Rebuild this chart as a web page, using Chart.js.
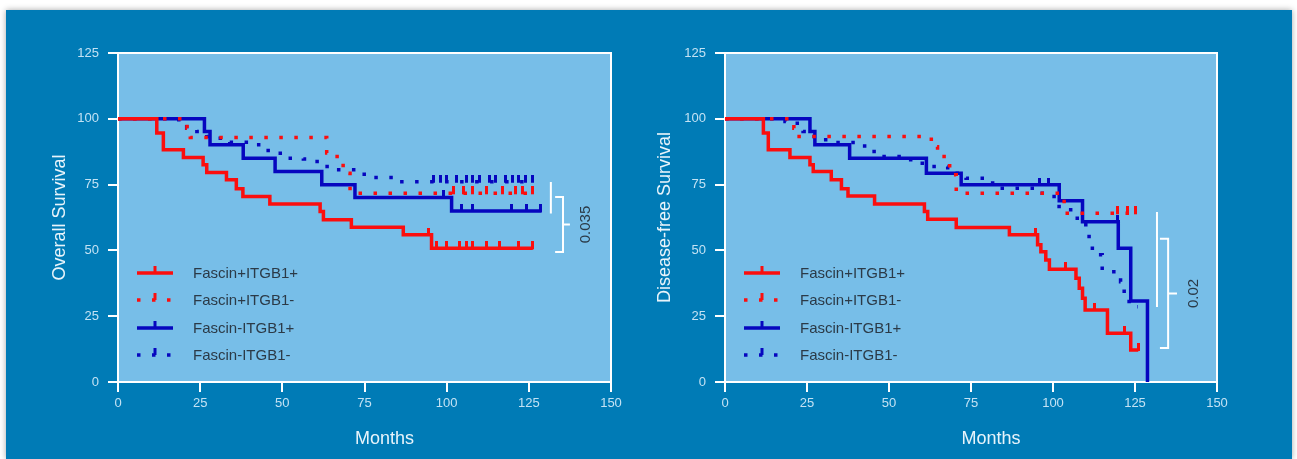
<!DOCTYPE html>
<html>
<head>
<meta charset="utf-8">
<script src="https://cdn.jsdelivr.net/npm/chart.js@4.4.0/dist/chart.umd.min.js"></script>
<style>
  body { margin: 0; background: #fff; width: 1297px; height: 459px; overflow: hidden; position: relative; }
  #panel { position: absolute; left: 6px; top: 10px; width: 1286px; height: 449px; background: #007bb6; box-shadow: 0 0 6px rgba(0,0,0,0.35); }
  #os { position: absolute; left: 0; top: 0; }
  #dfs { position: absolute; left: 640px; top: 0; }
</style>
</head>
<body>
<div id="panel">
  <canvas id="os" width="640" height="449"></canvas>
  <canvas id="dfs" width="646" height="449"></canvas>
</div>
<script>
// legend labels
var groupLabels = ["Fascin+ITGB1+", "Fascin+ITGB1-", "Fascin-ITGB1+", "Fascin-ITGB1-"];
var xTicks = [0, 25, 50, 75, 100, 125, 150];
var yTicks = [0, 25, 50, 75, 100, 125];

// ---- overall survival (months / % surviving after each step) ----
var osPosPosT = [0, 11.8, 13.8, 19.9, 25.9, 27, 33, 36, 38, 46.2, 61.5, 62.5, 71, 86.8, 95.4, 126.2];
var osPosPosS = [100, 94.6, 88.2, 85.3, 82.5, 79.6, 76.8, 73.4, 70.5, 67.6, 64.8, 61.6, 58.8, 55.9, 50.8, 50.8];
var osPosPosC = [94.6, 97, 100, 104, 106, 108, 112, 116, 122, 126];

var osPosNegT = [0, 21, 22, 63.5, 65.4, 67.5, 68.5, 70.6, 126.2];
var osPosNegS = [100, 96.4, 92.9, 87, 85.7, 83, 79.3, 71.7, 71.7];
var osPosNegC = [102, 105, 108, 112, 117, 121, 123, 126];

var osNegPosT = [0, 26.3, 28, 38.1, 47.8, 62, 72.1, 101.5, 128.9];
var osNegPosS = [100, 95.2, 90.1, 85, 80, 74.9, 70.1, 65, 65];
var osNegPosC = [99, 104.6, 108, 119.8, 124.3, 128.4];

var osNegNegT = [0, 18.5, 20.9, 24, 27, 30, 34, 41.7, 44.7, 46.8, 51.8, 56.4, 59.4, 63, 66, 73, 77.2, 83.8, 126.2];
var osNegNegS = [100, 98.8, 96.4, 95.2, 93.3, 92.6, 91.1, 90.1, 88, 86.9, 85, 84.7, 83.8, 81.9, 80.6, 78.9, 77.7, 76.1, 76.1];
var osNegNegC = [96, 98, 100, 103, 106, 108, 110, 113, 115, 118, 120, 122, 124, 126];

// ---- disease-free survival ----
var dfsPosPosT = [0, 11.7, 13.2, 19.8, 25.9, 26.9, 32.4, 35.5, 37.5, 45.6, 60.8, 61.8, 70.5, 86.7, 95.3, 96.3, 97.8, 98.9, 107, 108, 109, 109.8, 116.6, 123.7, 126];
var dfsPosPosS = [100, 94.6, 88.2, 85.3, 82.5, 80, 76.8, 73.4, 70.7, 67.6, 64.8, 61.8, 58.7, 55.9, 52.1, 49.5, 46.4, 42.8, 39.4, 35.6, 31.8, 27.4, 18.5, 12.2, 12.2];
var dfsPosPosC = [94.8, 103.7, 112.8, 121.7, 126];

var dfsPosNegT = [0, 21, 22, 62.9, 64.8, 67.4, 68.5, 70.5, 103.4, 126];
var dfsPosNegS = [100, 96.4, 93.3, 89.4, 85.7, 83.1, 78.7, 71.7, 64.1, 64.1];
var dfsPosNegC = [119.6, 122.6, 125.3];

var dfsNegPosT = [0, 25.9, 27.4, 38, 61.4, 72, 101.9, 109, 119.9, 123.7, 128.8];
var dfsNegPosS = [100, 95.2, 90.1, 85, 79.3, 74.9, 68.9, 60.9, 50.8, 30.8, 0];
var dfsNegPosC = [95.8, 98.6, 119.6];

var dfsNegNegT = [0, 18.3, 19.8, 23.8, 26.4, 29.9, 33.5, 41.6, 43.6, 47.7, 54.8, 57.8, 61.8, 67.9, 73.5, 81.6, 95.8, 98.9, 100.9, 103.4, 106, 110, 111, 112, 115, 120.6, 121.7, 123.2, 125.8];
var dfsNegNegS = [100, 99, 98.3, 95.2, 93.3, 92, 91, 89.7, 87.6, 85.7, 84.4, 83.1, 81.9, 79.3, 77.4, 73.6, 71.7, 70.5, 66.7, 65.4, 62.2, 58.4, 54, 48.3, 41.9, 38.1, 33.7, 28.6, 28.6];
var dfsNegNegC = [];

// p values
var osPValue = "0.035";
var dfsPValue = "0.02";

var RED = "#fb0e0e";
var BLUE = "#0606bf";
var DASH = [3.5, 11.5];
var FONT = "'Liberation Sans', Arial, Helvetica, sans-serif";

//small upward tick used as the censor marker
var tickImage = function(color) {
  var c = document.createElement("canvas");
  c.width = 3; c.height = 14;
  var g = c.getContext("2d");
  g.fillStyle = color;
  g.fillRect(0, 0, 3, 8);
  return c;
};
var redTick = tickImage(RED), blueTick = tickImage(BLUE);

var levelAt = function(ts, ss, m) {
  var v = ss[0];
  for (var i = 0; i < ts.length; i++) { if (ts[i] <= m) v = ss[i]; }
  return v;
};

var curve = function(label, ts, ss, color, dotted) {
  return {
    label: label,
    data: ts.map(function(t, i) { return { x: t, y: ss[i] }; }),
    borderColor: color,
    backgroundColor: color,
    borderWidth: 3.5,
    borderDash: dotted ? DASH : [],
    borderCapStyle: 'butt',
    stepped: 'before',   // horizontal first, then drop
    pointRadius: 0,
    fill: false
  };
};

var censor = function(ts, ss, cs, color) {
  return {
    data: cs.map(function(m) { return { x: m, y: levelAt(ts, ss, m) }; }),
    showLine: false,
    pointStyle: color === RED ? redTick : blueTick,
    pointRadius: 4,
    isCensor: true
  };
};

//plot background and white frame
var plotFrame = {
  id: 'plotFrame',
  beforeDraw: function(chart) {
    var a = chart.chartArea, ctx = chart.ctx;
    ctx.save();
    ctx.fillStyle = "#77bee8";
    ctx.fillRect(a.left, a.top, a.right - a.left, a.bottom - a.top);
    ctx.restore();
  },
  beforeDatasetsDraw: function(chart) {
    var a = chart.chartArea, ctx = chart.ctx;
    ctx.save();
    ctx.strokeStyle = "#fff";
    ctx.lineWidth = 2;
    ctx.strokeRect(a.left, a.top, a.right - a.left, a.bottom - a.top);
    ctx.restore();
  }
};

//legend, x title and p-value bracket
var extras = {
  id: 'extras',
  afterDraw: function(chart, args, opts) {
    var a = chart.chartArea, ctx = chart.ctx;
    var xs = chart.scales.x, ys = chart.scales.y;
    ctx.save();

    // legend
    var rows = [220, 247, 275, 302];
    var curves = chart.data.datasets.filter(function(d) { return !d.isCensor; });
    ctx.font = "15px " + FONT;
    ctx.textBaseline = "middle";
    curves.forEach(function(d, i) {
      var y = a.top + rows[i], x0 = a.left + 19, x1 = a.left + 55;
      ctx.strokeStyle = d.borderColor;
      ctx.lineWidth = 3.5;
      ctx.setLineDash(d.borderDash.length ? d.borderDash : []);
      ctx.beginPath(); ctx.moveTo(x0, y); ctx.lineTo(x1, y); ctx.stroke();
      ctx.setLineDash([]);
      ctx.fillStyle = d.borderColor;
      ctx.fillRect((x0 + x1) / 2 - 1.5, y - 7, 3, 7);
      ctx.fillStyle = "#2b3a47";
      ctx.fillText(d.label, a.left + 75, y + 1);
    });

    // x title
    ctx.fillStyle = "#e8f4fb";
    ctx.font = "18px " + FONT;
    ctx.textAlign = "center";
    ctx.fillText("Months", (a.left + a.right) / 2 + 20, 429);

    // bracket
    var b = opts.bracket;
    ctx.strokeStyle = "#fff";
    ctx.lineWidth = 2;
    ctx.beginPath();
    ctx.moveTo(xs.getPixelForValue(b.line), ys.getPixelForValue(b.lineTop));
    ctx.lineTo(xs.getPixelForValue(b.line), ys.getPixelForValue(b.lineBottom));
    var bx0 = xs.getPixelForValue(b.hookStart), bx1 = xs.getPixelForValue(b.hookEnd);
    var by0 = ys.getPixelForValue(b.top), by1 = ys.getPixelForValue(b.bottom);
    var bm = (by0 + by1) / 2;
    ctx.moveTo(bx0, by0); ctx.lineTo(bx1, by0); ctx.lineTo(bx1, by1); ctx.lineTo(bx0, by1);
    ctx.moveTo(bx1, bm); ctx.lineTo(xs.getPixelForValue(b.tip), bm);
    ctx.stroke();

    ctx.translate(xs.getPixelForValue(b.text), bm);
    ctx.rotate(-Math.PI / 2);
    ctx.fillStyle = "#2b3a47";
    ctx.font = "15px " + FONT;
    ctx.textAlign = "center";
    ctx.fillText(b.label, 0, 0);
    ctx.restore();
  }
};

var makeChart = function(id, yTitle, yWidth, padRight, titlePad, bracket, sets) {
  var ctx = document.getElementById(id).getContext("2d");
  return new Chart(ctx, {
    type: 'line',
    data: { datasets: sets },
    options: {
      responsive: false,
      animation: false,
      layout: { padding: { top: 43, right: padRight, left: 0, bottom: 0 } },
      plugins: { legend: { display: false }, tooltip: { enabled: false }, extras: { bracket: bracket } },
      scales: {
        x: {
          type: 'linear', min: 0, max: 150,
          afterBuildTicks: function(s) { s.ticks = xTicks.map(function(v) { return { value: v }; }); },
          afterFit: function(s) { s.height = 77; },
          grid: { drawOnChartArea: false, drawTicks: true, tickLength: 10, color: "#fff", lineWidth: 2 },
          border: { color: "#fff", width: 2 },
          ticks: { color: "#c3e2f4", font: { size: 13, family: FONT }, padding: 4, maxRotation: 0 }
        },
        y: {
          min: 0, max: 125,
          afterBuildTicks: function(s) { s.ticks = yTicks.map(function(v) { return { value: v }; }); },
          afterFit: function(s) { s.width = yWidth; },
          grid: { drawOnChartArea: false, drawTicks: true, tickLength: 10, color: "#fff", lineWidth: 2 },
          border: { color: "#fff", width: 2 },
          ticks: { color: "#c3e2f4", font: { size: 13, family: FONT }, padding: 9 },
          title: { display: true, text: yTitle, color: "#e8f4fb", font: { size: 18, family: FONT, lineHeight: 1.2 }, padding: { top: titlePad, bottom: 0 } }
        }
      }
    },
    plugins: [plotFrame, extras]
  });
};

makeChart("os", "Overall Survival", 112, 35, 43,
  { line: 131.7, lineTop: 76, lineBottom: 64, hookStart: 133, hookEnd: 135.4, top: 70.3, bottom: 49.4, tip: 137.5, text: 142.4, label: osPValue },
  [
    curve(groupLabels[0], osPosPosT, osPosPosS, RED, false),
    curve(groupLabels[1], osPosNegT, osPosNegS, RED, true),
    curve(groupLabels[2], osNegPosT, osNegPosS, BLUE, false),
    curve(groupLabels[3], osNegNegT, osNegNegS, BLUE, true),
    censor(osPosPosT, osPosPosS, osPosPosC, RED),
    censor(osPosNegT, osPosNegS, osPosNegC, RED),
    censor(osNegPosT, osNegPosS, osNegPosC, BLUE),
    censor(osNegNegT, osNegNegS, osNegNegC, BLUE)
  ]);

makeChart("dfs", "Disease-free Survival", 79, 75, 8,
  { line: 131.7, lineTop: 64.6, lineBottom: 28.5, hookStart: 132.6, hookEnd: 135.1, top: 54.4, bottom: 12.9, tip: 137.8, text: 143, label: dfsPValue },
  [
    curve(groupLabels[0], dfsPosPosT, dfsPosPosS, RED, false),
    curve(groupLabels[1], dfsPosNegT, dfsPosNegS, RED, true),
    curve(groupLabels[2], dfsNegPosT, dfsNegPosS, BLUE, false),
    curve(groupLabels[3], dfsNegNegT, dfsNegNegS, BLUE, true),
    censor(dfsPosPosT, dfsPosPosS, dfsPosPosC, RED),
    censor(dfsPosNegT, dfsPosNegS, dfsPosNegC, RED),
    censor(dfsNegPosT, dfsNegPosS, dfsNegPosC, BLUE),
    censor(dfsNegNegT, dfsNegNegS, dfsNegNegC, BLUE)
  ]);
</script>
</body>
</html>
